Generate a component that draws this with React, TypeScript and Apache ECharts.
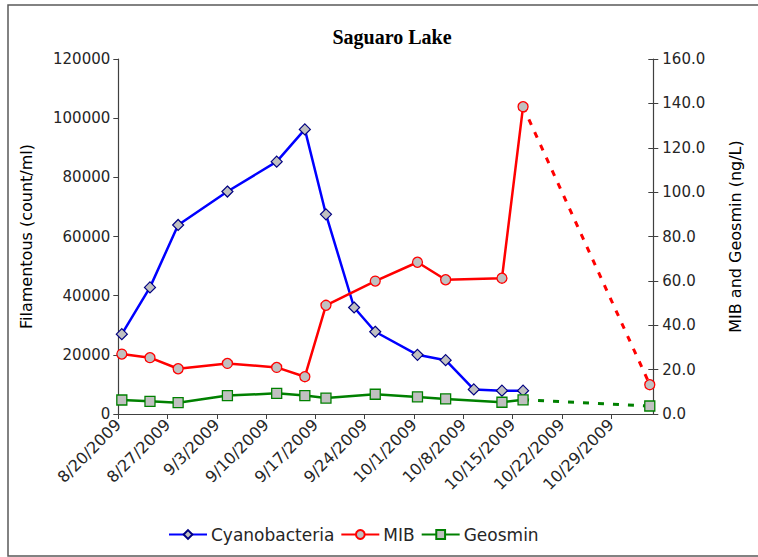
import React, { useEffect, useRef } from "react";
import * as echarts from "echarts";

const cyanoDates = ["2009-08-20", "2009-08-24", "2009-08-28", "2009-09-04", "2009-09-11", "2009-09-15", "2009-09-18", "2009-09-22", "2009-09-25", "2009-10-01", "2009-10-05", "2009-10-09", "2009-10-13", "2009-10-16"];
const cyanoValues = [27000, 42800, 63900, 75200, 85300, 96200, 67500, 36000, 27800, 20000, 18200, 8300, 7900, 7900];

const mibDates = ["2009-08-20", "2009-08-24", "2009-08-28", "2009-09-04", "2009-09-11", "2009-09-15", "2009-09-18", "2009-09-25", "2009-10-01", "2009-10-05", "2009-10-13", "2009-10-16"];
const mibValues = [27.0, 25.4, 20.4, 22.8, 21.0, 16.8, 49.0, 59.9, 68.4, 60.5, 61.2, 138.5];
const geoValues = [6.3, 5.7, 5.1, 8.3, 9.3, 8.3, 7.2, 8.9, 7.7, 6.8, 5.3, 6.4];

const lateDate = "2009-11-03";
const mibLate = 13.2;
const geoLate = 3.6;

const startDate = "2009-08-20";
const endDate = "2009-11-04";

const DAY = 86400000;
const toMs = (s: string) => {
  const [y, m, d] = s.split("-").map(Number);
  return Date.UTC(y, m - 1, d);
};
const dayOf = (s: string) => Math.round((toMs(s) - toMs(startDate)) / DAY) + 0.5;
const fmtDay = (v: number) => {
  if (Math.abs(v % 7) > 1e-6) return "";
  const d = new Date(toMs(startDate) + v * DAY);
  return `${d.getUTCMonth() + 1}/${d.getUTCDate()}/${d.getUTCFullYear()}`;
};

const FONT = "DejaVu Sans";

export default function App() {
  const ref = useRef<HTMLDivElement>(null);
  useEffect(() => {
    if (!ref.current) return;
    const chart = echarts.init(ref.current, null, { renderer: "svg" });
    const maxDay = Math.round((toMs(endDate) - toMs(startDate)) / DAY);
    const gray = "#c0c0c0";
    const axisColor = "#404040";
    const labelStyle = { fontFamily: FONT, fontSize: 15, color: "#262626" };
    const nameStyle = { fontFamily: FONT, fontSize: 16, fontWeight: "normal", color: "#000" };

    chart.setOption({
      animation: false,
      backgroundColor: "#ffffff",
      title: {
        text: "Saguaro Lake",
        left: 387,
        textAlign: "center",
        top: 22,
        textStyle: { fontFamily: "Liberation Serif", fontWeight: "bold", fontSize: 20, color: "#000" },
      },
      graphic: [
        {
          type: "rect",
          shape: { x: 8, y: 5, width: 800, height: 551 },
          style: { fill: "none", stroke: "#5a5a5a", lineWidth: 1.5 },
          silent: true,
        },
      ],
      legend: {
        data: ["Cyanobacteria", "MIB", "Geosmin"],
        left: 163,
        top: 521,
        itemWidth: 38,
        itemHeight: 11,
        itemGap: 6,
        textStyle: { fontFamily: FONT, fontSize: 17, color: "#262626", padding: [0, 0, 0, -1] },
      },
      grid: { left: 118.3, right: 104.7, top: 59, bottom: 143, containLabel: false },
      xAxis: {
        type: "value",
        min: 0,
        max: maxDay,
        interval: 7,
        splitLine: { show: false },
        axisLine: { lineStyle: { color: axisColor, width: 1.2 } },
        axisTick: { length: 5, lineStyle: { color: axisColor } },
        axisLabel: {
          ...labelStyle,
          fontSize: 16,
          rotate: 45,
          margin: 8,
          showMaxLabel: false,
          formatter: (v: number) => fmtDay(v),
        },
      },
      yAxis: [
        {
          type: "value",
          min: 0,
          max: 120000,
          interval: 20000,
          position: "left",
          name: "Filamentous (count/ml)",
          nameLocation: "middle",
          nameGap: 84,
          nameTextStyle: nameStyle,
          splitLine: { show: false },
          axisLine: { show: true, lineStyle: { color: axisColor, width: 1.2 } },
          axisTick: { show: true, length: 5, lineStyle: { color: axisColor } },
          axisLabel: { ...labelStyle, margin: 8, formatter: (v: number) => String(v) },
        },
        {
          type: "value",
          min: 0,
          max: 160,
          interval: 20,
          position: "right",
          name: "MIB and Geosmin (ng/L)",
          nameLocation: "middle",
          nameGap: 74,
          nameRotate: 90,
          nameTextStyle: nameStyle,
          splitLine: { show: false },
          axisLine: { show: true, lineStyle: { color: axisColor, width: 1.2 } },
          axisTick: { show: true, length: 5, lineStyle: { color: axisColor } },
          axisLabel: { ...labelStyle, margin: 9, formatter: (v: number) => v.toFixed(1) },
        },
        {
          type: "value",
          min: 0,
          max: 160,
          interval: 20,
          position: "right",
          splitLine: { show: false },
          axisLine: { show: false },
          axisTick: { show: true, inside: true, length: 5, lineStyle: { color: axisColor } },
          axisLabel: { show: false },
        },
      ],
      series: [
        {
          name: "MIB ",
          type: "line",
          yAxisIndex: 1,
          data: [
            { value: [dayOf(mibDates[mibDates.length - 1]), mibValues[mibValues.length - 1]], symbol: "none" },
            { value: [dayOf(lateDate), mibLate] },
          ],
          symbol: "circle",
          symbolSize: 10,
          lineStyle: { color: "#ff0000", width: 3, type: [6, 8] },
          itemStyle: { color: gray, borderColor: "#ff0000", borderWidth: 1.3 },
          z: 2,
        },
        {
          name: "Geosmin ",
          type: "line",
          yAxisIndex: 1,
          data: [
            { value: [dayOf(mibDates[mibDates.length - 1]), geoValues[geoValues.length - 1]], symbol: "none" },
            { value: [dayOf(lateDate), geoLate] },
          ],
          symbol: "rect",
          symbolSize: 10,
          lineStyle: { color: "#008000", width: 3, type: [6, 9] },
          itemStyle: { color: gray, borderColor: "#008000", borderWidth: 1.3 },
          z: 2,
        },
        {
          name: "Cyanobacteria",
          type: "line",
          yAxisIndex: 0,
          data: cyanoDates.map((d, i) => [dayOf(d), cyanoValues[i]]),
          symbol: "diamond",
          symbolSize: 11,
          lineStyle: { color: "#0000ff", width: 2.5 },
          itemStyle: { color: gray, borderColor: "#000080", borderWidth: 1.2 },
          z: 3,
        },
        {
          name: "MIB",
          type: "line",
          yAxisIndex: 1,
          data: mibDates.map((d, i) => [dayOf(d), mibValues[i]]),
          symbol: "circle",
          symbolSize: 10,
          lineStyle: { color: "#ff0000", width: 2.5 },
          itemStyle: { color: gray, borderColor: "#ff0000", borderWidth: 1.3 },
          z: 3,
        },
        {
          name: "Geosmin",
          type: "line",
          yAxisIndex: 1,
          data: mibDates.map((d, i) => [dayOf(d), geoValues[i]]),
          symbol: "rect",
          symbolSize: 10,
          lineStyle: { color: "#008000", width: 2.5 },
          itemStyle: { color: gray, borderColor: "#008000", borderWidth: 1.3 },
          z: 3,
        },
      ],
    });
    return () => chart.dispose();
  }, []);
  return <div ref={ref} style={{ position: "absolute", left: 0, top: 0, width: 758, height: 557 }} />;
}
